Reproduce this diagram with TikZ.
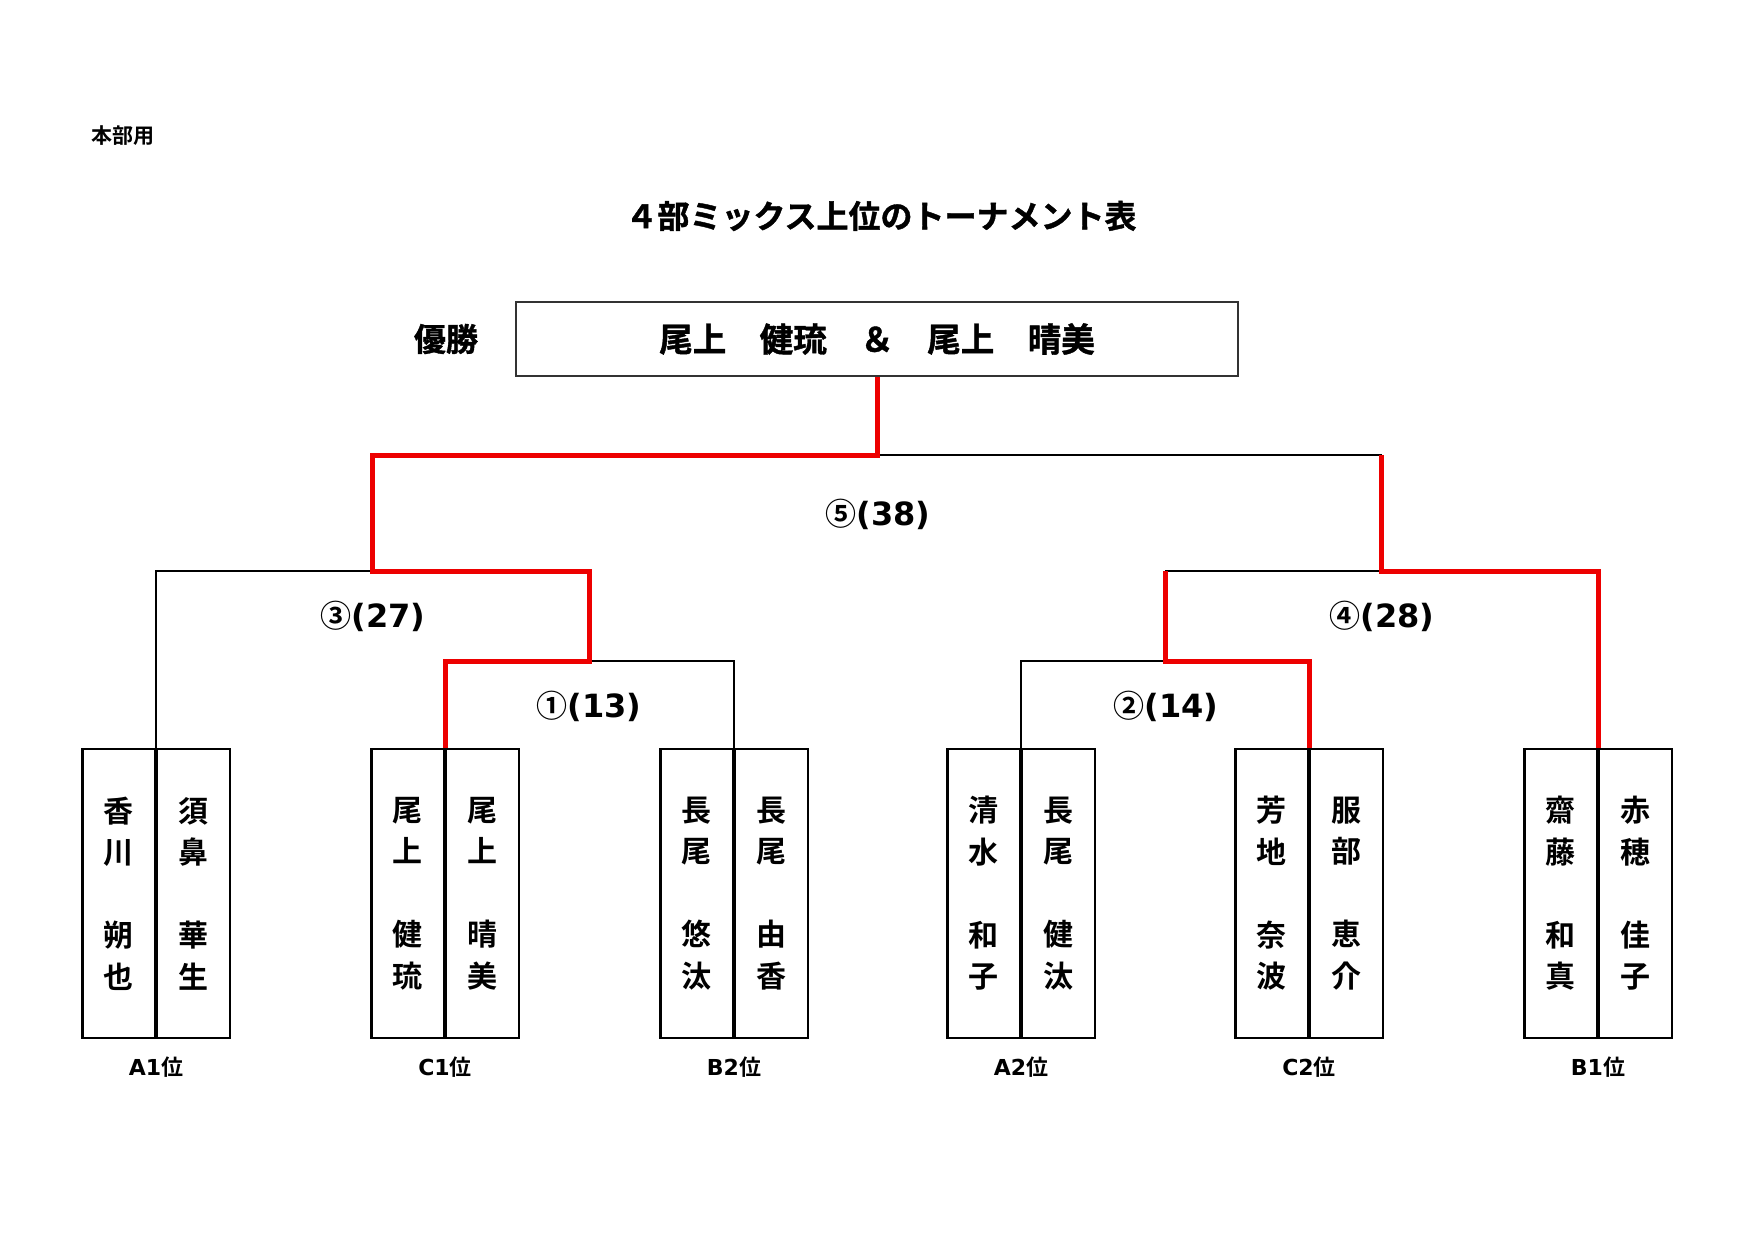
\documentclass[tikz,border=0pt]{standalone}
\usepackage{fontspec}
\setmainfont{Noto Sans CJK JP}[BoldFont={* Bold}]
\newfontfamily\jpb{Noto Sans CJK JP Bold}
\newfontfamily\jpbb{Noto Sans CJK JP Bold}[FakeBold=1.2]
\newfontfamily\latb{DejaVu Sans Bold}
\begin{document}
\begin{tikzpicture}[x=1pt,y=-1pt,
  thin line/.style={draw=black,line width=2pt},
  win line/.style={draw=red!93!black,line width=5pt,line join=miter},
  col/.style={draw=black,line width=2.4pt,minimum width=72.5pt,minimum height=289pt,inner sep=0pt,
    align=center,font=\jpb\fontsize{30}{41.5}\selectfont},
  match/.style={font=\jpb\fontsize{31}{36}\selectfont,inner sep=0pt},
  rank/.style={font=\jpb\fontsize{22}{24}\selectfont,inner sep=0pt}]
\useasboundingbox (0,0) rectangle (1755,1241);
\fill[white] (0,0) rectangle (1755,1241);

\node[font=\jpb\fontsize{21}{24}\selectfont,inner sep=0pt] (hb) at (123,136) {本部用};
\node[font=\jpbb\fontsize{32}{36}\selectfont,inner sep=0pt] (title) at (881,216) {４部ミックス上位のトーナメント表};
\node[font=\jpbb\fontsize{32}{36}\selectfont,inner sep=0pt] (yu) at (446,339) {優勝};
\node[draw=black!80,line width=2pt,minimum width=722pt,minimum height=74pt,inner sep=0pt,
  font=\jpbb\fontsize{33.5}{36}\selectfont] (W) at (877,339) {尾上　健琉　＆　尾上　晴美};

% player boxes
\def\ty{893.5}
\node[col,anchor=east] (A1L) at (156,\ty) {香\\川\\[41.5pt]朔\\也};
\node[col,anchor=west] (A1R) at (156,\ty) {須\\鼻\\[41.5pt]華\\生};
\node[col,anchor=east] (C1L) at (445,\ty) {尾\\上\\[41.5pt]健\\琉};
\node[col,anchor=west] (C1R) at (445,\ty) {尾\\上\\[41.5pt]晴\\美};
\node[col,anchor=east] (B2L) at (734,\ty) {長\\尾\\[41.5pt]悠\\汰};
\node[col,anchor=west] (B2R) at (734,\ty) {長\\尾\\[41.5pt]由\\香};
\node[col,anchor=east] (A2L) at (1021,\ty) {清\\水\\[41.5pt]和\\子};
\node[col,anchor=west] (A2R) at (1021,\ty) {長\\尾\\[41.5pt]健\\汰};
\node[col,anchor=east] (C2L) at (1309,\ty) {芳\\地\\[41.5pt]奈\\波};
\node[col,anchor=west] (C2R) at (1309,\ty) {服\\部\\[41.5pt]恵\\介};
\node[col,anchor=east] (B1L) at (1598,\ty) {齋\\藤\\[41.5pt]和\\真};
\node[col,anchor=west] (B1R) at (1598,\ty) {赤\\穂\\[41.5pt]佳\\子};

% rank labels
\node[rank] (rA1) at (156,1067) {{\latb A1}位};
\node[rank] (rC1) at (445,1067) {{\latb C1}位};
\node[rank] (rB2) at (734,1067) {{\latb B2}位};
\node[rank] (rA2) at (1021,1067) {{\latb A2}位};
\node[rank] (rC2) at (1309,1067) {{\latb C2}位};
\node[rank] (rB1) at (1598,1067) {{\latb B1}位};

% match junctions
\coordinate (m5) at (877,455);
\coordinate (m3) at (372,571);
\coordinate (m4) at (1381,571);
\coordinate (m1) at (589,661);
\coordinate (m2) at (1165,661);

% match labels
\node[match] (t5) at (878,514) {⑤{\latb\fontsize{32}{36}\selectfont (38)}};
\node[match] (t3) at (373,616) {③{\latb\fontsize{32}{36}\selectfont (27)}};
\node[match] (t4) at (1382,616) {④{\latb\fontsize{32}{36}\selectfont (28)}};
\node[match] (t1) at (589,706) {①{\latb\fontsize{32}{36}\selectfont (13)}};
\node[match] (t2) at (1166,706) {②{\latb\fontsize{32}{36}\selectfont (14)}};

% losing (black) branches
\draw[thin line] (A1L.north east) |- (m3);
\draw[thin line] (B2L.north east) |- (m1);
\draw[thin line] (A2L.north east) |- (m2);
\draw[thin line] (m5) -| (m4);
\draw[thin line] (m2 |- m4) -- (m4);

% winning (red) path
\draw[win line] (C1L.north east) |- (m1) -- (m1 |- m3) -| (m3 |- m5) -| (W.south);
\draw[win line] (C2L.north east) |- (m2) -- (m2 |- m4);
\draw[win line] (m4 |- m5) -- (m4) -| (B1L.north east);
\end{tikzpicture}
\end{document}
